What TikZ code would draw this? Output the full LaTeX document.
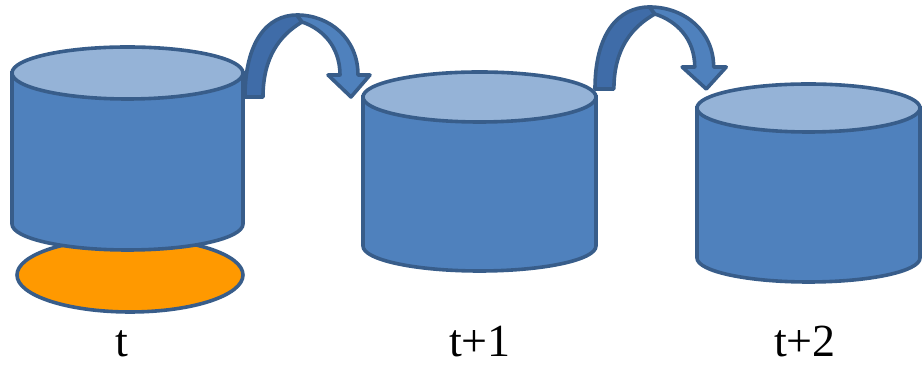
\documentclass[tikz,border=0pt]{standalone}
\usepackage{fontspec}
\setmainfont{Liberation Serif}
\usepackage{xcolor}

\definecolor{bodyblue}{HTML}{4F81BD}
\definecolor{lidblue}{HTML}{95B3D7}
\definecolor{edgeblue}{HTML}{385D8A}
\definecolor{backblue}{HTML}{3F6CA8}
\definecolor{baseorange}{HTML}{FF9900}

% cylinder: left x, right x, top y, bottom y, y radius
\newcommand{\drum}[5]{%
  \filldraw[drumbody] (#1,#3) -- (#1,#4)
    arc[start angle=180,end angle=360,x radius={(#2-#1)/2},y radius=#5]
    -- (#2,#3) -- cycle;
  \filldraw[drumlid] ({(#1+#2)/2},#3) ellipse[x radius={(#2-#1)/2},y radius=#5];
}

% curved arrow, origin at the outer foot of the tail
\newcommand{\hopper}[2]{%
  \begin{scope}[shift={#1},xscale=#2]
    \filldraw[hopback] (0,0) .. controls (0,55) and (22,82) .. (52,82)
      -- (57,75) .. controls (35,62) and (18,40) .. (18,0) -- cycle;
    \filldraw[hopfront] (52,82) .. controls (85,82) and (113,58) .. (113,22)
      -- (125,22) -- (106,0) -- (83,22) -- (95,22)
      .. controls (95,50) and (78,68) .. (57,75) -- cycle;
  \end{scope}
}

\begin{document}
\begin{tikzpicture}[x=0.5pt,y=0.5pt,
    drumbody/.style={fill=bodyblue,draw=edgeblue,line width=1.8pt},
    drumlid/.style={fill=lidblue,draw=edgeblue,line width=1.8pt},
    hopback/.style={fill=backblue,draw=edgeblue,line width=1.8pt,line join=round},
    hopfront/.style={fill=bodyblue,draw=edgeblue,line width=1.8pt,line join=round},
    steplabel/.style={anchor=base,inner sep=0pt,font=\fontsize{23}{28}\selectfont}]
        \useasboundingbox (0,0) rectangle (923,368);

        % base under the first drum
        \filldraw[fill=baseorange,draw=edgeblue,line width=1.8pt] (130,93) ellipse[x radius=113,y radius=37];

        \drum{12}{243}{295}{144}{26}
        \drum{363}{596}{271}{122}{25}
        \drum{697}{920}{260}{110}{24}

        \hopper{(245,271)}{1}
        \hopper{(595,279)}{1.05}

        \node[steplabel] (t0) at (122,11) {t};
        \node[steplabel] (t1) at (480,11) {t+1};
        \node[steplabel] (t2) at (805,11) {t+2};

    \end{tikzpicture}
\end{document}
